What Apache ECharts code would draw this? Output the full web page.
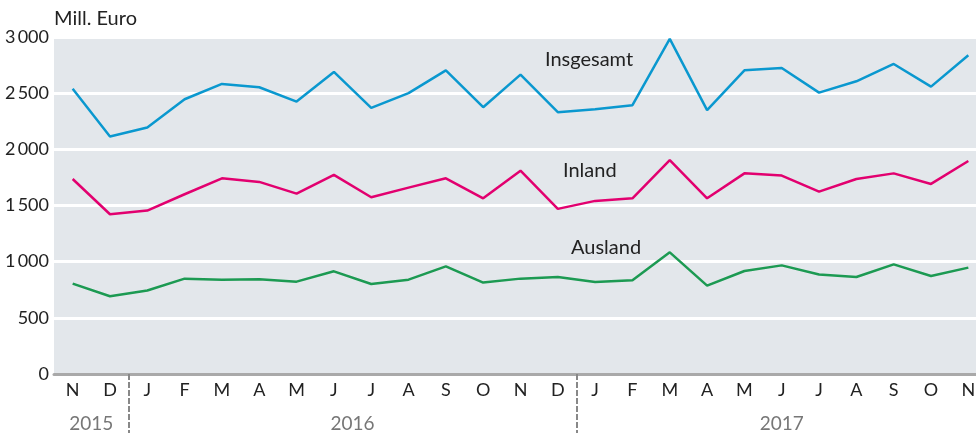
<!DOCTYPE html>
<html>
<head>
<meta charset="utf-8">
<script src="https://cdn.jsdelivr.net/npm/echarts@6/dist/echarts.min.js"></script>
<style>
  html, body { margin: 0; padding: 0; background: #fff; }
  #chart { width: 976px; height: 434px; }
</style>
</head>
<body>
<div id="chart"></div>
<script>
  var months = ['N','D','J','F','M','A','M','J','J','A','S','O','N','D',
                'J','F','M','A','M','J','J','A','S','O','N'];
  var insgesamt = [2540,2115,2195,2446,2582,2553,2425,2689,2369,2500,2703,2375,2665,
                   2331,2357,2393,2984,2349,2703,2724,2505,2606,2760,2558,2837];
  var inland = [1736,1422,1455,1600,1742,1710,1606,1772,1573,1659,1742,1564,1810,
                1470,1541,1564,1905,1564,1786,1766,1624,1736,1786,1692,1896];
  var ausland = [805,692,743,849,840,843,822,914,801,840,958,814,849,
                 863,819,834,1083,787,917,967,885,863,976,872,947];
  // year bands: boundaries and label centres on a 0..25 scale
  var yearBreaks = [2, 14];
  var yearCenters = [1, 8, 19.5];
  var yearNames = ['2015', '2016', '2017'];

  var FONT = 'Lato';
  var myChart = echarts.init(document.getElementById('chart'));

  var options = {
    backgroundColor: '#fff',
    animation: false,
    textStyle: { fontFamily: FONT },
    grid: {
      left: 54, width: 933, top: 37, bottom: 60,
      outerBoundsMode: 'none', containLabel: false,
      show: true, backgroundColor: '#e3e7eb', borderWidth: 0
    },
    graphic: [
      { type: 'text', left: 54, top: 9,
        style: { text: 'Mill. Euro', font: '20px ' + FONT, fill: '#222' } },
      { type: 'text', left: 545, top: 50,
        style: { text: 'Insgesamt', font: '20px ' + FONT, fill: '#222' } },
      { type: 'text', left: 563, top: 161,
        style: { text: 'Inland', font: '20px ' + FONT, fill: '#222' } },
      { type: 'text', left: 571, top: 238,
        style: { text: 'Ausland', font: '20px ' + FONT, fill: '#222' } }
    ],
    xAxis: [
      {
        type: 'category',
        data: months,
        boundaryGap: true,
        axisLine: { lineStyle: { color: '#a9a9a9', width: 3 } },
        axisTick: { show: false },
        axisLabel: { color: '#222', fontSize: 18, margin: 7, interval: 0 }
      },
      {
        type: 'value',
        position: 'bottom',
        min: 0, max: 25,
        axisLine: { show: false },
        splitLine: { show: false },
        axisTick: {
          show: true, length: 59, customValues: yearBreaks,
          lineStyle: { color: '#888', width: 2, type: [6, 2] }
        },
        axisLabel: {
          customValues: yearCenters, color: '#777', fontSize: 19, margin: 40,
          formatter: function (v) { return yearNames[yearCenters.indexOf(v)]; }
        }
      }
    ],
    yAxis: {
      type: 'value',
      min: 0, max: 3000, interval: 500,
      axisLine: { show: false },
      axisTick: { show: false },
      axisLabel: {
        color: '#222', fontSize: 18, margin: 5,
        formatter: function (v) {
          var s = String(v);
          return s.length > 3 ? s.slice(0, s.length - 3) + '\u2009' + s.slice(-3) : s;
        }
      },
      splitLine: { lineStyle: { color: '#fff', width: 3 } }
    },
    series: [
      { name: 'Insgesamt', type: 'line', data: insgesamt, symbol: 'none',
        lineStyle: { color: '#0a98cf', width: 2.5 } },
      { name: 'Inland', type: 'line', data: inland, symbol: 'none',
        lineStyle: { color: '#e2006f', width: 2.5 } },
      { name: 'Ausland', type: 'line', data: ausland, symbol: 'none',
        lineStyle: { color: '#1c9a52', width: 2.5 } }
    ]
  };
  myChart.setOption(options);
</script>
</body>
</html>
